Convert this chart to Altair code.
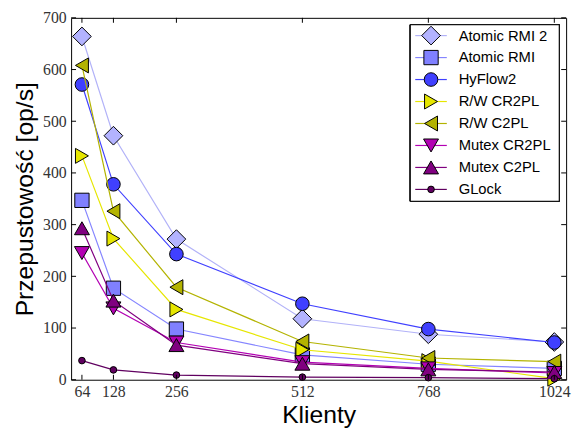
import altair as alt
import pandas as pd

# ---------------- data ----------------
clients = [64, 128, 256, 512, 768, 1024]
series_names = ["Atomic RMI 2", "Atomic RMI", "HyFlow2", "R/W CR2PL",
                "R/W C2PL", "Mutex CR2PL", "Mutex C2PL", "GLock"]
atomic_rmi2 = [664, 472, 272, 118, 88, 73]
atomic_rmi = [347, 177, 98, 48, 30, 22]
hyflow2 = [571, 378, 243, 147, 98, 72]
rw_cr2pl = [433, 273, 136, 58, 36, 2]
rw_c2pl = [608, 326, 179, 74, 42, 35]
mutex_cr2pl = [245, 138, 72, 34, 22, 13]
mutex_c2pl = [293, 153, 67, 31, 20, 15]
glock = [37, 19, 9, 5, 4, 2]
x_ticks = [64, 128, 256, 512, 768, 1024]
y_ticks = [0, 100, 200, 300, 400, 500, 600, 700]

values = [atomic_rmi2, atomic_rmi, hyflow2, rw_cr2pl, rw_c2pl,
          mutex_cr2pl, mutex_c2pl, glock]

# ---------------- styles ----------------
line_colors = ["#b2b2f8", "#8585ff", "#4040ff", "#e6e600", "#b3b300",
               "#b300b3", "#800080", "#600060"]
fill_colors = ["#b3b3ff", "#8080ff", "#4040ff", "#e6e600", "#b3b300",
               "#b300b3", "#800080", "#600060"]
shapes = ["diamond", "square", "circle", "triangle-right", "triangle-left",
          "triangle-down", "triangle-up", "circle"]
sizes = [360, 210, 190, 230, 230, 230, 230, 45]

W, H = 502, 367
XDOM = [42, 1048]
YDOM = [0, 700]

xs = alt.Scale(domain=XDOM, nice=False, zero=False)
ys = alt.Scale(domain=YDOM, nice=False, zero=False)

TICK_FONT = "Liberation Serif"
SANS = "Liberation Sans"

x_axis = alt.Axis(values=x_ticks, format="d", ticks=False, domain=False, grid=False,
                  labelFont=TICK_FONT, labelFontSize=16, labelColor="#333",
                  labelPadding=4, title="Klienty", titleFont=SANS,
                  titleFontSize=25, titleFontWeight="normal",
                  titleColor="black", titlePadding=3, labelFlush=False)
y_axis = alt.Axis(values=y_ticks, format="d", ticks=False, domain=False, grid=False,
                  labelFont=TICK_FONT, labelFontSize=16, labelColor="#333",
                  labelPadding=5, title="Przepustowość [op/s]", titleFont=SANS,
                  titleFontSize=25, titleFontWeight="normal",
                  titleColor="black", titlePadding=5, labelFlush=False)


def X(field):
    return alt.X(field, scale=xs, axis=x_axis)


layers = []
for i, name in enumerate(series_names):
    df = pd.DataFrame({"clients": clients, "value": values[i], "series": name})
    yenc = alt.Y("value:Q", scale=ys, axis=y_axis if i == 0 else None)
    line = alt.Chart(df).mark_line(color=line_colors[i], strokeWidth=1.2).encode(
        x=X("clients:Q"), y=yenc)
    pts = alt.Chart(df).mark_point(shape=shapes[i], size=sizes[i], filled=True,
                                   fill=fill_colors[i], stroke="black", strokeWidth=1,
                                   opacity=1).encode(
        x=X("clients:Q"),
        y=alt.Y("value:Q", scale=ys, axis=None))
    layers += [line, pts]

# inward ticks on all four sides
xt = pd.DataFrame({"clients": x_ticks})
yt = pd.DataFrame({"t": y_ticks})
tick_len = 5
layers.append(alt.Chart(xt).mark_rule(color="black", strokeWidth=1).encode(
    x=X("clients:Q"), y=alt.value(H), y2=alt.value(H - tick_len)))
layers.append(alt.Chart(xt).mark_rule(color="black", strokeWidth=1).encode(
    x=X("clients:Q"), y=alt.value(0), y2=alt.value(tick_len)))
layers.append(alt.Chart(yt).mark_rule(color="black", strokeWidth=1).encode(
    y=alt.Y("t:Q", scale=ys, axis=None), x=alt.value(0), x2=alt.value(tick_len)))
layers.append(alt.Chart(yt).mark_rule(color="black", strokeWidth=1).encode(
    y=alt.Y("t:Q", scale=ys, axis=None), x=alt.value(W), x2=alt.value(W - tick_len)))

# legend
leg_df = pd.DataFrame({"series": series_names})
leg_scale = alt.Scale(domain=series_names, range=[18, 174], type="point", padding=0)
box_x0, box_x1 = 344, 495
layers.append(alt.Chart(leg_df).mark_rect(fill="white", stroke="black", strokeWidth=1).encode(
    x=alt.value(box_x0), x2=alt.value(box_x1), y=alt.value(7), y2=alt.value(186)))
for i, name in enumerate(series_names):
    one = pd.DataFrame({"series": [name]})
    yl = alt.Y("series:N", scale=leg_scale, axis=None)
    layers.append(alt.Chart(one).mark_rule(color=line_colors[i], strokeWidth=1.2).encode(
        x=alt.value(349), x2=alt.value(381), y=yl))
    layers.append(alt.Chart(one).mark_point(shape=shapes[i], size=sizes[i], filled=True,
                                            fill=fill_colors[i], stroke="black",
                                            strokeWidth=1, opacity=1).encode(
        x=alt.value(365), y=yl))
layers.append(alt.Chart(leg_df).mark_text(align="left", baseline="middle", font=SANS,
                                          fontSize=15, color="black").encode(
    x=alt.value(393), y=alt.Y("series:N", scale=leg_scale, axis=None),
    text="series:N"))

chart = alt.layer(*layers).resolve_scale(y="independent").properties(
    width=W, height=H,
    autosize=alt.AutoSizeParams(type="none"),
    padding={"left": 64, "top": 7, "right": 9, "bottom": 48},
).configure_view(stroke="black", strokeWidth=1)

chart.save("out.html", embed_options={"renderer": "svg", "actions": False})
